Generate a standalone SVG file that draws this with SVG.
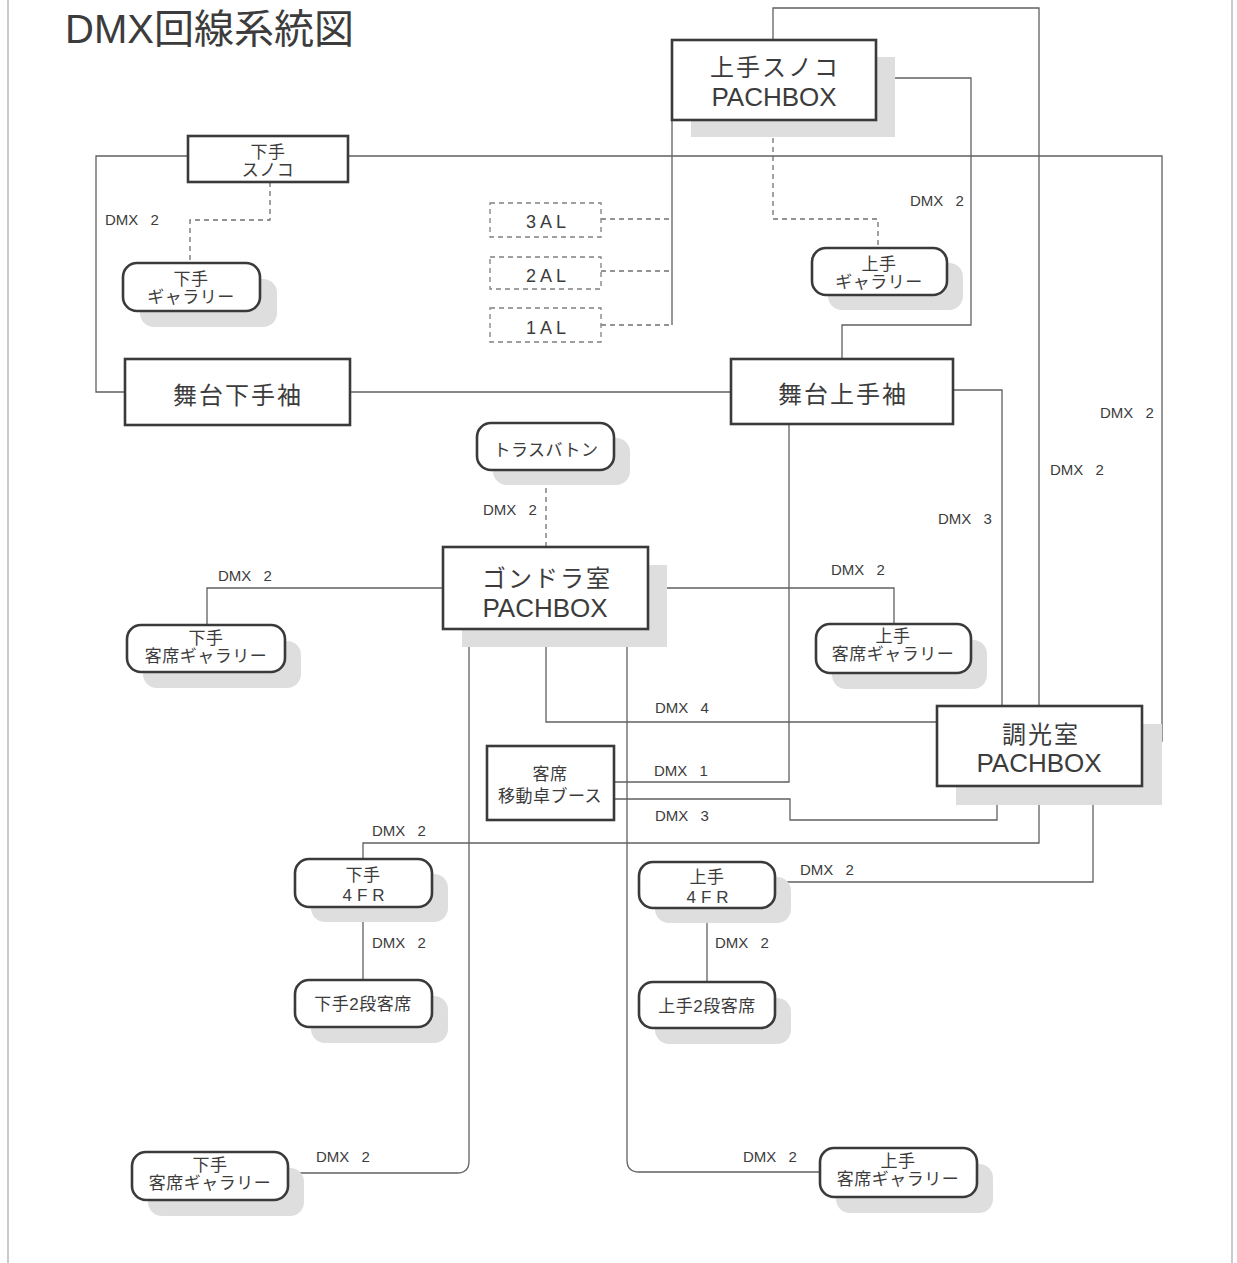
<svg xmlns="http://www.w3.org/2000/svg" width="1237" height="1263" viewBox="0 0 1237 1263">
<style>
text{font-family:"Liberation Sans","Noto Sans CJK JP",sans-serif;fill:#3c3c3c}
.t{font-size:40px}
.big{font-size:24px;letter-spacing:2px;text-anchor:middle}
.lat{font-size:26px;text-anchor:middle}
.sm{font-size:17px;letter-spacing:0.5px;text-anchor:middle}
.sp{font-size:17px;letter-spacing:5px;text-anchor:middle}
.al{font-size:18px;letter-spacing:4px;text-anchor:middle}
.lb{font-size:15px;word-spacing:8px}
.box{fill:#fff;stroke:#3a3a3a;stroke-width:2.6}
.sh{fill:#dedede}
.dbox{fill:none;stroke:#808080;stroke-width:1.3;stroke-dasharray:5 4}
.c{fill:none;stroke:#606060;stroke-width:1.3}
.d{fill:none;stroke:#707070;stroke-width:1.3;stroke-dasharray:5 4}
.frame{stroke:#a8a8a8;stroke-width:1.2}
</style>
<line class="frame" x1="8" y1="0" x2="8" y2="1263"/>
<line class="frame" x1="1232" y1="0" x2="1232" y2="1263"/>
<text class="t" x="65" y="43">DMX回線系統図</text>

<g id="connectors">
<path class="c" d="M773,40 V8 H1039 V706"/>
<path class="c" d="M876,78 H971 V325 H842 V359"/>
<path class="c" d="M672,120 V325"/>
<path class="d" d="M601,219 H672 M601,271 H672 M601,325 H672"/>
<path class="d" d="M773,120 V219 H878 V248"/>
<path class="c" d="M188,156 H96 V392 H125"/>
<path class="c" d="M348,156 H1162 V741 H1142"/>
<path class="d" d="M270,182 V220 H190 V263"/>
<path class="c" d="M350,392 H731"/>
<path class="c" d="M953,390 H1002 V706"/>
<path class="c" d="M789,424 V782 H614"/>
<path class="d" d="M546,470 V547"/>
<path class="c" d="M443,588 H207 V625"/>
<path class="c" d="M648,588 H894 V624"/>
<path class="c" d="M546,629 V722 H937"/>
<path class="c" d="M469,629 V1161 Q469,1173 457,1173 H288"/>
<path class="c" d="M627,629 V1160 Q627,1172 639,1172 H820"/>
<path class="c" d="M997,786 V820 H790 V799 H614"/>
<path class="c" d="M1039,786 V843 H363 V859"/>
<path class="c" d="M1093,786 V882 H775"/>
<path class="c" d="M363,907 V980"/>
<path class="c" d="M707,908 V982"/>
</g>

<g id="labels">
<text class="lb" x="105" y="225">DMX 2</text>
<text class="lb" x="910" y="206">DMX 2</text>
<text class="lb" x="1100" y="418">DMX 2</text>
<text class="lb" x="1050" y="475">DMX 2</text>
<text class="lb" x="938" y="524">DMX 3</text>
<text class="lb" x="483" y="515">DMX 2</text>
<text class="lb" x="218" y="581">DMX 2</text>
<text class="lb" x="831" y="575">DMX 2</text>
<text class="lb" x="655" y="713">DMX 4</text>
<text class="lb" x="654" y="776">DMX 1</text>
<text class="lb" x="655" y="821">DMX 3</text>
<text class="lb" x="372" y="836">DMX 2</text>
<text class="lb" x="800" y="875">DMX 2</text>
<text class="lb" x="372" y="948">DMX 2</text>
<text class="lb" x="715" y="948">DMX 2</text>
<text class="lb" x="316" y="1162">DMX 2</text>
<text class="lb" x="743" y="1162">DMX 2</text>
</g>

<g id="kamite-sunoko">
<rect class="sh" x="691" y="57" width="204" height="80"/>
<rect class="box" x="672" y="40" width="204" height="80"/>
<text class="big" x="775" y="76">上手スノコ</text>
<text class="lat" x="774" y="106">PACHBOX</text>
</g>

<g id="shimote-sunoko">
<rect class="box" x="188" y="136" width="160" height="46"/>
<text class="sm" x="268" y="158">下手</text>
<text class="sm" x="268" y="176">スノコ</text>
</g>

<g id="shimote-gallery">
<rect class="sh" x="140" y="279" width="137" height="48" rx="14"/>
<rect class="box" x="123" y="263" width="137" height="48" rx="14"/>
<text class="sm" x="191" y="285">下手</text>
<text class="sm" x="191" y="303">ギャラリー</text>
</g>

<g id="al3">
<rect class="dbox" x="490" y="203" width="111" height="34"/>
<text class="al" x="548" y="228">3AL</text>
</g>
<g id="al2">
<rect class="dbox" x="490" y="257" width="111" height="32"/>
<text class="al" x="548" y="282">2AL</text>
</g>
<g id="al1">
<rect class="dbox" x="490" y="308" width="111" height="34"/>
<text class="al" x="548" y="334">1AL</text>
</g>

<g id="kamite-gallery">
<rect class="sh" x="828" y="263" width="135" height="47" rx="14"/>
<rect class="box" x="812" y="248" width="135" height="47" rx="14"/>
<text class="sm" x="879" y="270">上手</text>
<text class="sm" x="879" y="288">ギャラリー</text>
</g>

<g id="butai-shimote">
<rect class="box" x="125" y="359" width="225" height="66"/>
<text class="big" x="238" y="404">舞台下手袖</text>
</g>

<g id="butai-kamite">
<rect class="box" x="731" y="359" width="222" height="65"/>
<text class="big" x="843" y="403">舞台上手袖</text>
</g>

<g id="truss">
<rect class="sh" x="493" y="438" width="137" height="47" rx="14"/>
<rect class="box" x="477" y="423" width="137" height="47" rx="14"/>
<text class="sm" x="546" y="456">トラスバトン</text>
</g>

<g id="gondola">
<rect class="sh" x="462" y="565" width="205" height="82"/>
<rect class="box" x="443" y="547" width="205" height="82"/>
<text class="big" x="547" y="587">ゴンドラ室</text>
<text class="lat" x="545" y="617">PACHBOX</text>
</g>

<g id="shimote-kyakuseki-gallery-1">
<rect class="sh" x="143" y="641" width="158" height="47" rx="14"/>
<rect class="box" x="127" y="625" width="158" height="47" rx="14"/>
<text class="sm" x="206" y="644">下手</text>
<text class="sm" x="206" y="662">客席ギャラリー</text>
</g>

<g id="kamite-kyakuseki-gallery-1">
<rect class="sh" x="832" y="640" width="155" height="49" rx="14"/>
<rect class="box" x="816" y="624" width="155" height="49" rx="14"/>
<text class="sm" x="893" y="642">上手</text>
<text class="sm" x="893" y="660">客席ギャラリー</text>
</g>

<g id="choukou">
<rect class="sh" x="956" y="724" width="206" height="81"/>
<rect class="box" x="937" y="706" width="205" height="80"/>
<text class="big" x="1041" y="743">調光室</text>
<text class="lat" x="1039" y="772">PACHBOX</text>
</g>

<g id="booth">
<rect class="box" x="487" y="746" width="127" height="74"/>
<text class="sm" x="550" y="780">客席</text>
<text class="sm" x="550" y="802">移動卓ブース</text>
</g>

<g id="shimote-4fr">
<rect class="sh" x="311" y="874" width="137" height="48" rx="14"/>
<rect class="box" x="295" y="859" width="137" height="48" rx="14"/>
<text class="sm" x="363" y="881">下手</text>
<text class="sp" x="366" y="901">4FR</text>
</g>

<g id="kamite-4fr">
<rect class="sh" x="655" y="877" width="136" height="46" rx="14"/>
<rect class="box" x="639" y="862" width="136" height="46" rx="14"/>
<text class="sm" x="707" y="883">上手</text>
<text class="sp" x="710" y="903">4FR</text>
</g>

<g id="shimote-2dan">
<rect class="sh" x="311" y="996" width="137" height="47" rx="14"/>
<rect class="box" x="295" y="980" width="137" height="47" rx="14"/>
<text class="sm" x="363" y="1010">下手2段客席</text>
</g>

<g id="kamite-2dan">
<rect class="sh" x="655" y="998" width="136" height="46" rx="14"/>
<rect class="box" x="639" y="982" width="136" height="46" rx="14"/>
<text class="sm" x="707" y="1012">上手2段客席</text>
</g>

<g id="shimote-kyakuseki-gallery-2">
<rect class="sh" x="148" y="1168" width="156" height="48" rx="14"/>
<rect class="box" x="132" y="1152" width="156" height="48" rx="14"/>
<text class="sm" x="210" y="1171">下手</text>
<text class="sm" x="210" y="1189">客席ギャラリー</text>
</g>

<g id="kamite-kyakuseki-gallery-2">
<rect class="sh" x="836" y="1164" width="157" height="49" rx="14"/>
<rect class="box" x="820" y="1148" width="157" height="49" rx="14"/>
<text class="sm" x="898" y="1167">上手</text>
<text class="sm" x="898" y="1185">客席ギャラリー</text>
</g>
</svg>
